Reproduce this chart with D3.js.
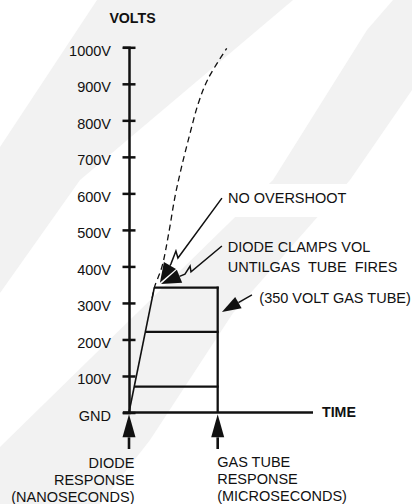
<!DOCTYPE html>
<html>
<head>
<meta charset="utf-8">
<script src="https://cdn.jsdelivr.net/npm/d3@7"></script>
<style>
  body { margin: 0; background: #fff; }
  text { font-family: "Liberation Sans", Arial, sans-serif; fill: #111; }
</style>
</head>
<body>
<div id="chart"></div>
<script>
// Voltage ticks and their labels
const volts = [0, 100, 200, 300, 400, 500, 600, 700, 800, 900, 1000];
const voltLabels = ["GND", "100V", "200V", "300V", "400V", "500V", "600V", "700V", "800V", "900V", "1000V"];

// Clamped response (time in arbitrary units, volts)
const rampTop = [13.75, 342];
const gasTubeTime = 48.2;
const clampLevels = [342, 221, 71];

// Unprotected surge (dashed)
const surge = [
  [12.6, 313], [13.75, 342], [17.9, 399], [21.6, 491], [25.0, 591],
  [28.6, 673], [33.2, 765], [37.7, 847], [43.1, 915], [53.1, 997]
];

// Annotation arrows [t, v], last point is the tip
const overshootArrow = [[50.5, 587], [26.6, 423], [25.5, 442], [22.8, 407], [16.8, 355]];
const clampArrow = [[50.5, 456], [33.7, 385], [33.2, 401], [30.4, 379], [17.4, 352]];
const gasTubeArrow = [[66.8, 322], [50.5, 275]];
const responseTimes = [0, gasTubeTime];

const width = 412, height = 504;
const fs = "14.5px";

const x = d3.scaleLinear().domain([0, 100]).range([129, 313]);
const y = d3.scaleLinear().domain([0, 1000]).range([412.5, 47.3]);

const svg = d3.select("#chart").append("svg")
    .attr("width", width)
    .attr("height", height);

// faint watermark stripes in the background
const bands = [
  [[97, 0], [293, 0], [80, 180], [0, 293], [0, 147]],
  [[393, 0], [412, 0], [412, 90], [350, 180], [233, 313], [150, 440], [100, 504], [0, 504], [0, 447], [273, 180], [367, 30]]
];
svg.selectAll(".band").data(bands).enter().append("polygon")
    .attr("points", d => d.map(p => p.join(",")).join(" "))
    .attr("fill", "#f2f2f2");

// white patch behind the "no overshoot" label
svg.append("rect")
    .attr("x", 224).attr("y", 184)
    .attr("width", 136).attr("height", 33)
    .attr("fill", "#fff");

// title
svg.append("text")
    .attr("x", 132.5).attr("y", 23)
    .attr("text-anchor", "middle")
    .style("font-size", "14.2px")
    .style("font-weight", "bold")
    .text("VOLTS");

// y axis
const yAxis = svg.append("g")
    .attr("transform", `translate(${x(0)},0)`)
    .call(d3.axisLeft(y).tickValues(volts).tickFormat((d, i) => voltLabels[i]).tickSizeOuter(0).tickSize(6).tickPadding(12));
yAxis.select(".domain").attr("stroke", "#111").attr("stroke-width", 2.5);
yAxis.selectAll(".tick line").attr("x1", -6.5).attr("x2", 6.5).attr("stroke", "#111").attr("stroke-width", 2.5);
yAxis.selectAll(".tick text")
    .attr("dy", "0.55em")
    .style("font-size", fs)
    .style("font-family", "'Liberation Sans', Arial, sans-serif")
    .attr("fill", "#111");

// x axis
svg.append("line")
    .attr("x1", x(0) - 6).attr("x2", x(100))
    .attr("y1", y(0)).attr("y2", y(0))
    .attr("stroke", "#111").attr("stroke-width", 2.5);
svg.append("text")
    .attr("x", x(100) + 9).attr("y", y(0) + 4.5)
    .style("font-size", "14.2px")
    .style("font-weight", "bold")
    .text("TIME");

// dashed surge curve
svg.append("path")
    .datum(surge)
    .attr("fill", "none")
    .attr("stroke", "#111")
    .attr("stroke-width", 1.3)
    .attr("stroke-dasharray", "6,4")
    .attr("d", d3.line().x(d => x(d[0])).y(d => y(d[1])).curve(d3.curveCatmullRom));

// diode ramp
svg.append("line")
    .attr("x1", x(0)).attr("y1", y(0))
    .attr("x2", x(rampTop[0])).attr("y2", y(rampTop[1]))
    .attr("stroke", "#111").attr("stroke-width", 1.6);

// clamp levels out to the gas tube firing time
svg.selectAll(".level").data(clampLevels).enter().append("line")
    .attr("x1", d => x(rampTop[0] * d / rampTop[1]))
    .attr("x2", x(gasTubeTime) + 1)
    .attr("y1", d => y(d)).attr("y2", d => y(d))
    .attr("stroke", "#111").attr("stroke-width", 2.3);

svg.append("line")
    .attr("x1", x(gasTubeTime)).attr("x2", x(gasTubeTime))
    .attr("y1", y(clampLevels[0]) - 1).attr("y2", y(0))
    .attr("stroke", "#111").attr("stroke-width", 2.3);

// arrow helper: polyline with a filled head on the last point
function arrow(points, headLen, halfW, strokeW) {
  const px = points.map(d => [x(d[0]), y(d[1])]);
  const tip = px[px.length - 1], prev = px[px.length - 2];
  const dx = tip[0] - prev[0], dy = tip[1] - prev[1];
  const len = Math.hypot(dx, dy);
  const ux = dx / len, uy = dy / len;
  const base = [tip[0] - ux * headLen, tip[1] - uy * headLen];
  const linePts = px.slice(0, -1).concat([base]);
  svg.append("path")
      .attr("d", d3.line()(linePts))
      .attr("fill", "none")
      .attr("stroke", "#111")
      .attr("stroke-width", strokeW)
      .attr("stroke-linejoin", "miter");
  svg.append("polygon")
      .attr("points", [
        tip,
        [base[0] - uy * halfW, base[1] + ux * halfW],
        [base[0] + uy * halfW, base[1] - ux * halfW]
      ].map(p => p.join(",")).join(" "))
      .attr("fill", "#111");
}

arrow(overshootArrow, 20, 7, 1.5);
arrow(clampArrow, 20, 7, 1.5);
arrow(gasTubeArrow, 19, 6.5, 1.5);
responseTimes.forEach(t => arrow([[t, -100], [t, -5]], 23, 6.5, 2.6));

// annotation text
svg.append("text")
    .attr("x", 228).attr("y", 203)
    .style("font-size", fs)
    .text("NO OVERSHOOT");
svg.append("text")
    .attr("x", 227.7).attr("y", 251.7)
    .style("font-size", fs)
    .text("DIODE CLAMPS VOL");
svg.append("text")
    .attr("x", 227.7).attr("y", 271.7)
    .style("font-size", fs)
    .style("white-space", "pre")
    .text("UNTILGAS  TUBE  FIRES");
svg.append("text")
    .attr("x", 259.3).attr("y", 302.5)
    .style("font-size", fs)
    .text("(350 VOLT GAS TUBE)");

const diodeLines = ["DIODE", "RESPONSE", "(NANOSECONDS)"];
const tubeLines = ["GAS TUBE", "RESPONSE", "(MICROSECONDS)"];
svg.selectAll(".diode").data(diodeLines).enter().append("text")
    .attr("x", x(0) + 5.5).attr("y", (d, i) => 468 + i * 17)
    .attr("text-anchor", "end")
    .style("font-size", fs)
    .text(d => d);
svg.selectAll(".tube").data(tubeLines).enter().append("text")
    .attr("x", x(gasTubeTime) - 0.5).attr("y", (d, i) => 467 + i * 17)
    .style("font-size", fs)
    .text(d => d);
</script>
</body>
</html>
